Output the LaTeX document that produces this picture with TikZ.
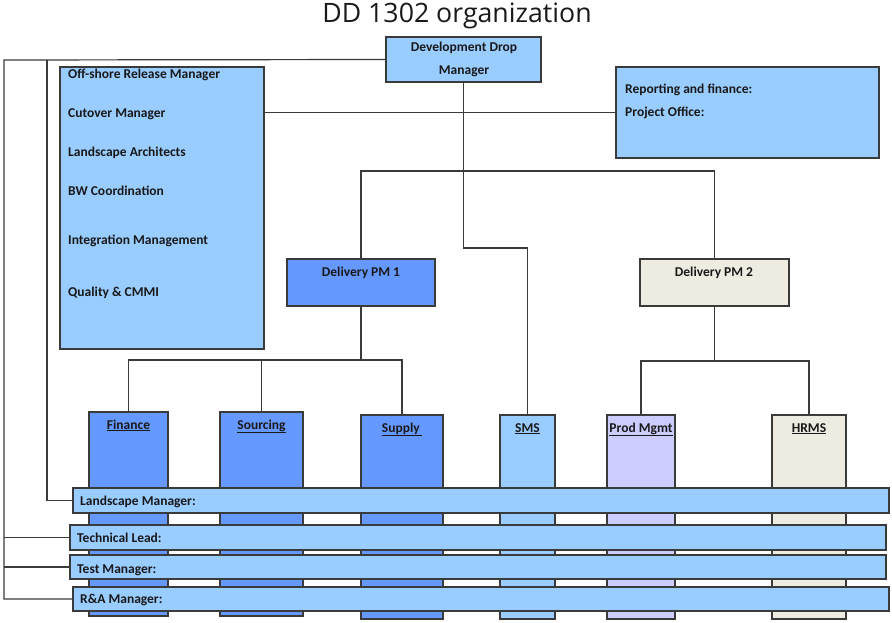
\documentclass[tikz,border=0pt]{standalone}
\usepackage{fontspec}
\setmainfont{Carlito}
\newfontfamily\titlefont{Open Sans}
\definecolor{lb}{HTML}{99CCFF}
\definecolor{mb}{HTML}{6699FF}
\definecolor{lav}{HTML}{CCCCFF}
\definecolor{bge}{HTML}{EEECE1}
\definecolor{ln}{HTML}{3A3A3A}
\newcommand\orgbox[6]{\node[box, fill=#6, minimum width={#4-#2}, minimum height={#5-#3}] (#1) at (#2,#3) {};}
\begin{document}
\begin{tikzpicture}[x=1pt,y=-1pt,
  box/.style={draw=ln, line width=1.2pt, anchor=north west, inner sep=0pt, outer sep=0pt},
  conn/.style={draw=ln, line width=1.2pt},
  trunk/.style={draw=ln, line width=1.8pt},
  lbl/.style={font=\bfseries\fontsize{13.5}{16}\selectfont, text=black!90, inner sep=0pt},
  ttl/.style={font=\titlefont\fontsize{26.7}{30}\selectfont, text=black!90, inner sep=0pt}]
\useasboundingbox (0,0) rectangle (892,623);
\node[ttl, anchor=base] (title) at (457,23) {DD 1302 organization};
% top boxes
\orgbox{ddm}{386}{37}{541}{82}{lb}
\orgbox{lbox}{60}{67}{264}{349}{lb}
\orgbox{rep}{616}{67}{879}{158}{lb}
\orgbox{pm1}{287}{259}{435}{306}{mb}
\orgbox{pm2}{640}{259}{789}{306}{bge}
% columns
\orgbox{fin}{89}{412}{168}{616}{mb}
\orgbox{src}{220}{412}{303}{616}{mb}
\orgbox{sup}{361}{415}{443}{619}{mb}
\orgbox{sms}{500}{415}{555}{619}{lb}
\orgbox{prod}{607}{415}{675}{619}{lav}
\orgbox{hrms}{772}{415}{846}{619}{bge}
% bands
\orgbox{lm}{73}{488}{889}{513}{lb}
\orgbox{tl}{70}{525}{886}{550}{lb}
\orgbox{tm}{70}{555}{886}{579}{lb}
\orgbox{ra}{73}{587}{889}{611}{lb}
% texts
\node[lbl, anchor=base] (ddmt1) at (464,52) {Development Drop};
\node[lbl, anchor=base] (ddmt2) at (464,75) {Manager};
\node[lbl, anchor=base west] (o1) at (68,79) {Off-shore Release Manager};
\node[lbl, anchor=base west] (o2) at (68,118) {Cutover Manager};
\node[lbl, anchor=base west] (o3) at (68,157) {Landscape Architects};
\node[lbl, anchor=base west] (o4) at (68,196) {BW Coordination};
\node[lbl, anchor=base west] (o5) at (68,244) {Integration Management};
\node[lbl, anchor=base west] (o6) at (68,296) {Quality \& CMMI};
\node[lbl, anchor=base west] (r1) at (625,94) {Reporting and finance:};
\node[lbl, anchor=base west] (r2) at (625,117) {Project Office:};
\node[lbl, anchor=base] (p1t) at (361,276) {Delivery PM 1};
\node[lbl, anchor=base] (p2t) at (714,276) {Delivery PM 2};
\node[lbl, anchor=base] (fint) at (128.5,429) {\underline{Finance}};
\node[lbl, anchor=base] (srct) at (261.5,429) {\underline{Sourcing}};
\node[lbl, anchor=base] (supt) at (402,432) {\underline{Supply\,}};
\node[lbl, anchor=base] (smst) at (527.5,432) {\underline{SMS}};
\node[lbl, anchor=base] (prodt) at (641,432) {\underline{Prod Mgmt}};
\node[lbl, anchor=base] (hrmst) at (809,432) {\underline{HRMS}};
\node[lbl, anchor=base west] (lmt) at (80,505) {Landscape Manager:};
\node[lbl, anchor=base west] (tlt) at (77,542) {Technical Lead:};
\node[lbl, anchor=base west] (tmt) at (77,573) {Test Manager:};
\node[lbl, anchor=base west] (rat) at (80,603) {R\&A Manager:};
% connectors
\coordinate (L1) at (4,60);
\coordinate (L2) at (47,60);
\draw[conn] (ddm.west) -- (L1) -- (L1 |- ra.west) -- (ra.west);
\draw[conn] (L1 |- tl.west) -- (tl.west);
\draw[conn] (L1 |- tm.west) -- (tm.west);
\draw[conn] (L2) -- (L2 |- lm.west) -- (lm.west);
\draw[conn] (rep.west) -- (rep.west -| lbox.east);
\coordinate (S1) at (0,248);
\coordinate (J0) at (0,171);
\coordinate (J1) at (ddm.south |- J0);
\draw[trunk] (ddm.south) -- (J1);
\draw[conn] (J1) -- (ddm.south |- S1) -| (sms.north);
\draw[conn] (pm1.north) |- (J1) -| (pm2.north);
\coordinate (Y1) at (0,360);
\coordinate (B1) at (pm1.south |- Y1);
\draw[trunk] (pm1.south) -- (B1);
\draw[conn] (fin.north) |- (sup.north |- Y1) -- (sup.north);
\draw[conn] (src.north) -- (src.north |- Y1);
\coordinate (Y2) at (0,361);
\coordinate (B2) at (pm2.south |- Y2);
\draw[trunk] (pm2.south) -- (B2);
\draw[conn] (prod.north) |- (hrms.north |- Y2) -- (hrms.north);
\end{tikzpicture}
\end{document}
